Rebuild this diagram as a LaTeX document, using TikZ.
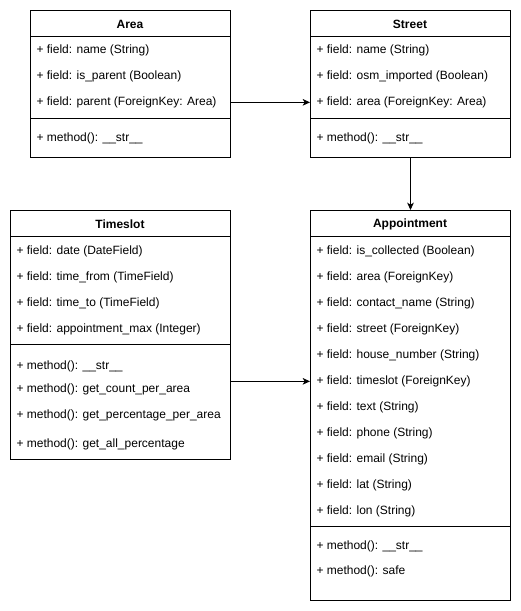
\documentclass[tikz,border=0pt]{standalone}
\usepackage{fontspec}
\setmainfont{Liberation Sans}
\usetikzlibrary{positioning, arrows.meta}

\begin{document}
\begin{tikzpicture}[x=0.75pt, y=-0.75pt, line width=0.75pt,
  font=\fontsize{9}{11}\selectfont,
  classbox/.style={draw, anchor=north west, inner sep=0pt},
  head/.style={font=\fontsize{9}{11}\selectfont\bfseries, yshift=-0.8pt},
  member/.style={anchor=west, inner sep=0pt, yshift=-1pt},
  assoc/.style={-{Stealth[length=5.5pt, width=5pt, inset=1.5pt]}}]
\useasboundingbox (0,0) rectangle (521,611);

% Area
\node[classbox, minimum width=150pt, minimum height=110.25pt] (area) at (30,10) {};
\node[head] (areahead) at (130,23) {Area};
\draw (30,36) -- (230,36);
\node[member] (aname) at (36,49) {+ field: name (String)};
\node[member] (aisparent) at (36,75) {+ field: is\_parent (Boolean)};
\node[member] (aparent) at (36,101) {+ field: parent (ForeignKey: Area)};
\draw (30,118) -- (230,118);
\node[member] (astr) at (36,137) {+ method(): \_\_str\_\_};

% Street
\node[classbox, minimum width=150pt, minimum height=110.25pt] (street) at (310,10) {};
\node[head] (streethead) at (410,23) {Street};
\draw (310,36) -- (510,36);
\node[member] (sname) at (316,49) {+ field: name (String)};
\node[member] (sosm) at (316,75) {+ field: osm\_imported (Boolean)};
\node[member] (sarea) at (316,101) {+ field: area (ForeignKey: Area)};
\draw (310,118) -- (510,118);
\node[member] (sstr) at (316,137) {+ method(): \_\_str\_\_};

% Timeslot
\node[classbox, minimum width=165pt, minimum height=186.75pt] (tslot) at (10,210) {};
\node[head] (tslothead) at (120,223) {Timeslot};
\draw (10,236) -- (230,236);
\node[member] (tdate) at (16,250) {+ field: date (DateField)};
\node[member] (tfrom) at (16,276) {+ field: time\_from (TimeField)};
\node[member] (tto) at (16,302) {+ field: time\_to (TimeField)};
\node[member] (tmax) at (16,328) {+ field: appointment\_max (Integer)};
\draw (10,344) -- (230,344);
\node[member] (tstr) at (16,365) {+ method(): \_\_str\_\_};
\node[member] (tcount) at (16,388) {+ method(): get\_count\_per\_area};
\node[member] (tperc) at (16,414) {+ method(): get\_percentage\_per\_area};
\node[member] (tall) at (16,443) {+ method(): get\_all\_percentage};

% Appointment
\node[classbox, minimum width=150pt, minimum height=292.5pt] (appt) at (310,210) {};
\node[head] (appthead) at (410,223) {Appointment};
\draw (310,236) -- (510,236);
\node[member] (acollected) at (316,250) {+ field: is\_collected (Boolean)};
\node[member] (aarea) at (316,276) {+ field: area (ForeignKey)};
\node[member] (acontact) at (316,302) {+ field: contact\_name (String)};
\node[member] (astreet) at (316,328) {+ field: street (ForeignKey)};
\node[member] (ahouse) at (316,354) {+ field: house\_number (String)};
\node[member] (aslot) at (316,380) {+ field: timeslot (ForeignKey)};
\node[member] (atext) at (316,406) {+ field: text (String)};
\node[member] (aphone) at (316,432) {+ field: phone (String)};
\node[member] (aemail) at (316,458) {+ field: email (String)};
\node[member] (alat) at (316,484) {+ field: lat (String)};
\node[member] (alon) at (316,510) {+ field: lon (String)};
\draw (310,526) -- (510,526);
\node[member] (apstr) at (316,545) {+ method(): \_\_str\_\_};
\node[member] (apsafe) at (316,570) {+ method(): safe};

% links
\draw[assoc] (aparent.west -| area.east) -- (sarea.west -| street.west);
\draw[assoc] (street.south) -- (appt.north);
\draw[assoc] (aslot.west -| tslot.east) -- (aslot.west -| appt.west);
\end{tikzpicture}
\end{document}
